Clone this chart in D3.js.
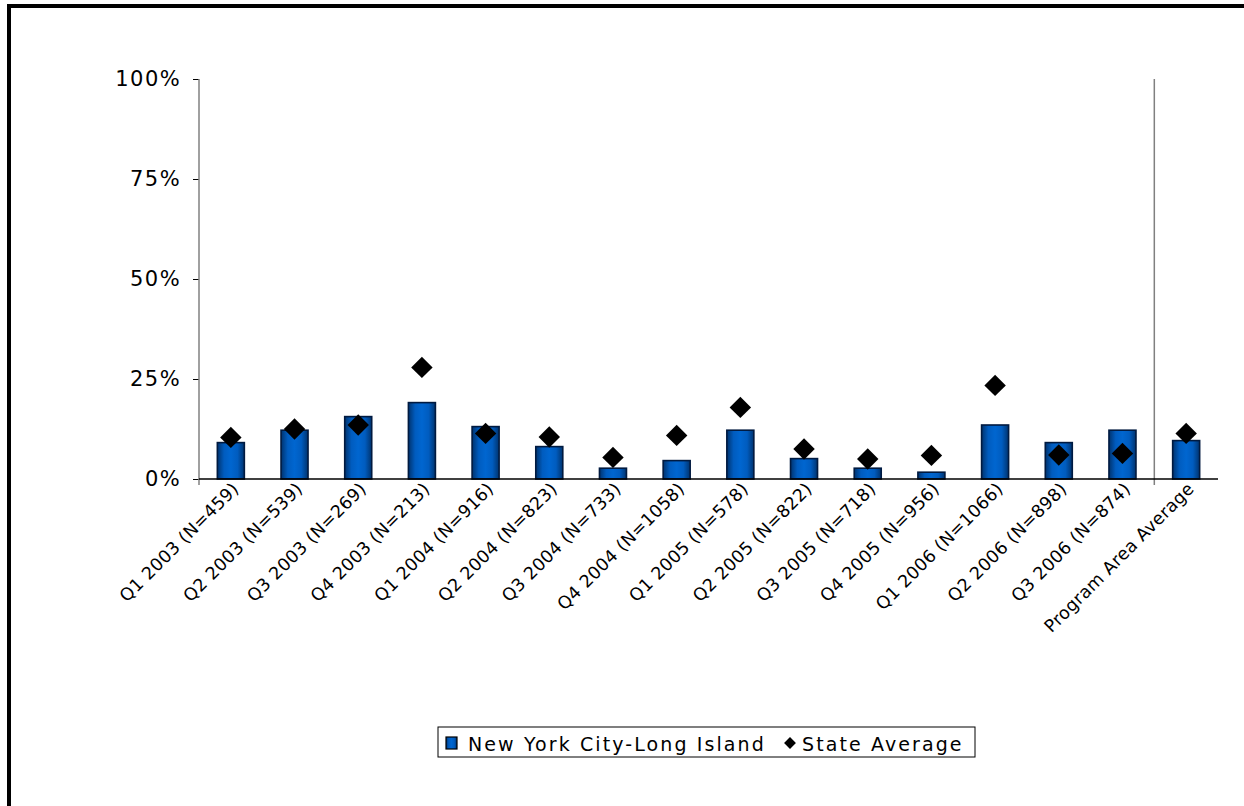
<!DOCTYPE html>
<html><head><meta charset="utf-8">
<script src="https://cdn.jsdelivr.net/npm/d3@7"></script>
<style>body{margin:0;background:#fff}svg{display:block}</style>
</head><body><svg id="c" width="1244" height="806"></svg>
<script>
const categories = ["Q1 2003 (N=459)","Q2 2003 (N=539)","Q3 2003 (N=269)","Q4 2003 (N=213)","Q1 2004 (N=916)","Q2 2004 (N=823)","Q3 2004 (N=733)","Q4 2004 (N=1058)","Q1 2005 (N=578)","Q2 2005 (N=822)","Q3 2005 (N=718)","Q4 2005 (N=956)","Q1 2006 (N=1066)","Q2 2006 (N=898)","Q3 2006 (N=874)","Program Area Average"];
const regionValues = [0.091,0.122,0.156,0.191,0.131,0.081,0.027,0.046,0.122,0.051,0.027,0.017,0.135,0.091,0.122,0.096];
const stateValues = [0.104,0.125,0.135,0.279,0.114,0.105,0.054,0.109,0.179,0.075,0.050,0.059,0.234,0.060,0.064,0.114];
const yTicks = [0,0.25,0.5,0.75,1];
const seriesNames = ["New York City-Long Island","State Average"];

const svg = d3.select("#c");
const font = "DejaVu Sans, Verdana, sans-serif";
const defs = svg.append("defs");
const grad = defs.append("linearGradient").attr("id","bg").attr("x1","0").attr("x2","1").attr("y1","0").attr("y2","0");
grad.append("stop").attr("offset","0").attr("stop-color","#00336e");
grad.append("stop").attr("offset","0.25").attr("stop-color","#005cbf");
grad.append("stop").attr("offset","0.5").attr("stop-color","#0066d0");
grad.append("stop").attr("offset","0.75").attr("stop-color","#005cbf");
grad.append("stop").attr("offset","1").attr("stop-color","#00336e");

// outer border (top and left visible)
svg.append("line").attr("x1",7).attr("x2",1244).attr("y1",6).attr("y2",6).attr("stroke","#000").attr("stroke-width",4);
svg.append("line").attr("x1",9).attr("x2",9).attr("y1",4).attr("y2",806).attr("stroke","#000").attr("stroke-width",4);

const x = d3.scaleBand().domain(categories).range([199,1218]).paddingInner(0.576).paddingOuter(0.288);
const y = d3.scaleLinear().domain([0,1]).range([479,79]);

// y axis
const yAxis = d3.axisLeft(y).tickValues(yTicks).tickFormat(d3.format(".0%")).tickSize(6).tickPadding(12);
const ga = svg.append("g").attr("transform","translate(199,0)").call(yAxis);
ga.select(".domain").remove();
ga.selectAll(".tick line").attr("stroke","#000");
ga.selectAll(".tick text").attr("font-family",font).attr("font-size",21).attr("letter-spacing","1.4px").attr("fill","#000");
svg.append("line").attr("x1",199).attr("x2",199).attr("y1",y(1)).attr("y2",485).attr("stroke","#808080").attr("stroke-width",1.5);

// separator
const sepX = x(categories[15]) - x.step()*x.paddingInner()/2;
svg.append("line").attr("x1",sepX).attr("x2",sepX).attr("y1",y(1)).attr("y2",485).attr("stroke","#808080").attr("stroke-width",1.5);

// bars
svg.append("g").selectAll("rect").data(regionValues).join("rect")
  .attr("x",(d,i)=>x(categories[i]))
  .attr("y",d=>y(d))
  .attr("width",x.bandwidth())
  .attr("height",d=>y(0)-y(d))
  .attr("fill","url(#bg)").attr("stroke","#001a40").attr("stroke-width",1.6);

// x axis line
svg.append("line").attr("x1",199).attr("x2",1218).attr("y1",y(0)).attr("y2",y(0)).attr("stroke","#000").attr("stroke-width",1.5);

// diamonds
const diamond = d3.symbol().type(d3.symbolSquare).size(230);
svg.append("g").selectAll("path").data(stateValues).join("path")
  .attr("d",diamond)
  .attr("transform",(d,i)=>`translate(${x(categories[i])+x.bandwidth()/2},${y(d)}) rotate(45)`)
  .attr("fill","#000");

// x labels
svg.append("g").selectAll("text").data(categories).join("text")
  .attr("transform",d=>`translate(${x(d)+x.bandwidth()/2+9},${490}) rotate(-45)`)
  .attr("text-anchor","end")
  .attr("font-family",font).attr("font-size",17.5).attr("letter-spacing","0.3px")
  .text(d=>d);

// legend
const lg = svg.append("g");
lg.append("rect").attr("x",438).attr("y",727).attr("width",537).attr("height",30).attr("fill","#fff").attr("stroke","#000").attr("stroke-width",1);
lg.append("rect").attr("x",446).attr("y",737).attr("width",11).attr("height",12).attr("fill","url(#bg)").attr("stroke","#000").attr("stroke-width",1.2);
lg.append("text").attr("x",468).attr("y",751).attr("font-family",font).attr("font-size",19).attr("letter-spacing","2.1px").text(seriesNames[0]);
lg.append("path").attr("d",d3.symbol().type(d3.symbolSquare).size(70)).attr("transform","translate(790,743) rotate(45)").attr("fill","#000");
lg.append("text").attr("x",802).attr("y",751).attr("font-family",font).attr("font-size",19).attr("letter-spacing","2.1px").text(seriesNames[1]);
</script></body></html>
